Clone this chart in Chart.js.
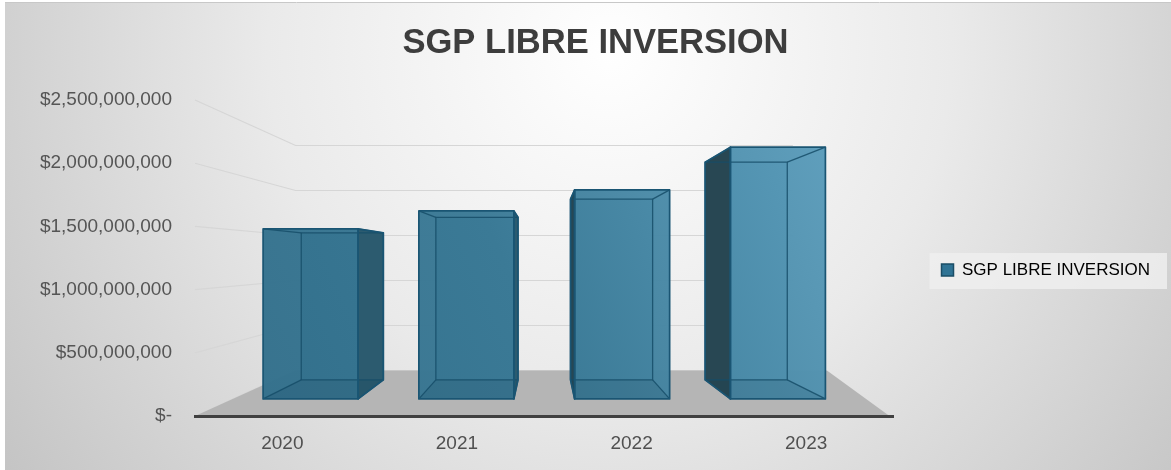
<!DOCTYPE html>
<html><head><meta charset="utf-8">
<script src="https://cdn.jsdelivr.net/npm/chart.js@4.4.1/dist/chart.umd.min.js"></script>
<style>html,body{margin:0;padding:0;background:#fff}#wrap{width:1171px;height:470px;position:relative}canvas{display:block}</style>
</head><body><div id="wrap"><canvas id="c" width="1171" height="470"></canvas></div>
<script>
// ---- data ----
const chartTitle = 'SGP LIBRE INVERSION';
const seriesName = 'SGP LIBRE INVERSION';
const categories = ['2020', '2021', '2022', '2023'];
const values = [1508000000, 1668000000, 1854000000, 2233000000];
const yTicks = [0, 500000000, 1000000000, 1500000000, 2000000000, 2500000000];

// ---- perspective style (depth factors toward chart-area centre) ----
const K_WALL = 0.712, K_FRONT = 0.892, K_BACK = 0.771;

function fmtMoney(v) {
  if (v === 0) return '$-';
  return '$' + Math.round(v).toLocaleString('en-US');
}

function vp(chart) {
  const a = chart.chartArea;
  return { x: (a.left + a.right) / 2, y: (a.top + a.bottom) / 2 };
}
function proj(chart, x, y, k) {
  const c = vp(chart);
  return { x: c.x + k * (x - c.x), y: c.y + k * (y - c.y) };
}
function poly(ctx, pts) {
  ctx.beginPath();
  ctx.moveTo(pts[0].x, pts[0].y);
  for (let i = 1; i < pts.length; i++) ctx.lineTo(pts[i].x, pts[i].y);
  ctx.closePath();
}

const scenePlugin = {
  id: 'scene3d',
  beforeDraw(chart) {
    const ctx = chart.ctx, W = chart.width, H = chart.height, a = chart.chartArea;
    ctx.save();
    ctx.fillStyle = '#ffffff';
    ctx.fillRect(0, 0, W, H);
    const g = ctx.createRadialGradient(610, 50, 0, 610, 50, 760);
    g.addColorStop(0, '#ffffff');
    g.addColorStop(0.45, '#eaeaea');
    g.addColorStop(1, '#c2c2c2');
    ctx.fillStyle = g;
    ctx.fillRect(5, 3, W - 5, H - 3);
    ctx.strokeStyle = '#c8c8c8';
    ctx.lineWidth = 1;
    ctx.beginPath(); ctx.moveTo(5, 2.5); ctx.lineTo(W, 2.5); ctx.stroke();

    const ys = chart.scales.y;
    ctx.strokeStyle = '#d6d6d6';
    ctx.lineWidth = 1.2;
    ys.ticks.forEach(t => {
      const py = ys.getPixelForValue(t.value);
      const bl = proj(chart, a.left, py, K_WALL);
      const br = proj(chart, a.right, py, K_WALL);
      ctx.beginPath();
      ctx.moveTo(a.left, py);
      ctx.lineTo(bl.x, bl.y);
      ctx.lineTo(br.x, br.y);
      ctx.stroke();
    });

    const y0 = ys.getPixelForValue(0);
    const fbl = proj(chart, a.left, y0, K_WALL);
    const fbr = proj(chart, a.right, y0, K_WALL);
    fbr.x += 34;
    ctx.fillStyle = '#b5b5b5';
    poly(ctx, [{ x: a.left, y: y0 }, { x: a.right - 4, y: y0 }, fbr, fbl]);
    ctx.fill();

    const lg = chart.legend;
    if (lg && lg.legendHitBoxes && lg.legendHitBoxes.length) {
      const hb = lg.legendHitBoxes[0];
      ctx.fillStyle = 'rgba(238,238,238,0.85)';
      ctx.fillRect(hb.left - 12, hb.top + hb.height / 2 - 17, hb.width + 29, 36);
    }
    ctx.restore();
  },
  beforeDatasetsDraw(chart) {
    const ctx = chart.ctx, a = chart.chartArea;
    const c = vp(chart);
    const grad = ctx.createLinearGradient(a.left, a.bottom, a.right, a.top);
    grad.addColorStop(0, '#306d89');
    grad.addColorStop(0.45, '#3b7a96');
    grad.addColorStop(1, '#62a4c3');
    ctx.save();
    ctx.lineJoin = 'round';
    chart.data.datasets.forEach((ds, di) => {
      const meta = chart.getDatasetMeta(di);
      meta.data.forEach(el => {
        const p = el.getProps(['x', 'y', 'base', 'width'], true);
        const x0 = p.x - p.width / 2, x1 = p.x + p.width / 2;
        const yt = Math.min(p.y, p.base), yb = Math.max(p.y, p.base);
        const F = [proj(chart, x0, yt, K_FRONT), proj(chart, x1, yt, K_FRONT), proj(chart, x1, yb, K_FRONT), proj(chart, x0, yb, K_FRONT)];
        const B = [proj(chart, x0, yt, K_BACK), proj(chart, x1, yt, K_BACK), proj(chart, x1, yb, K_BACK), proj(chart, x0, yb, K_BACK)];
        ctx.fillStyle = grad;
        poly(ctx, B); ctx.fill();
        const rightSide = p.x < c.x;
        const side = rightSide ? [F[1], B[1], B[2], F[2]] : [F[0], B[0], B[3], F[3]];
        ctx.fillStyle = rightSide ? '#2c5b6f' : '#284753';
        poly(ctx, side); ctx.fill();
        ctx.globalAlpha = 0.97;
        ctx.fillStyle = grad;
        poly(ctx, F); ctx.fill();
        ctx.globalAlpha = 1;
        ctx.fillStyle = 'rgba(15,55,75,0.14)';
        poly(ctx, [F[3], F[2], B[2], B[3]]); ctx.fill();
        ctx.strokeStyle = 'rgba(22,78,104,0.85)';
        ctx.lineWidth = 1.3;
        poly(ctx, B); ctx.stroke();
        for (let i = 0; i < 4; i++) {
          ctx.beginPath(); ctx.moveTo(F[i].x, F[i].y); ctx.lineTo(B[i].x, B[i].y); ctx.stroke();
        }
        ctx.strokeStyle = '#1a5573';
        ctx.lineWidth = 1.7;
        poly(ctx, F); ctx.stroke();
        poly(ctx, side); ctx.stroke();
      });
    });
    ctx.restore();
    return false;
  },
  afterLayout(chart) {
    const lg = chart.legend;
    if (lg) { lg.top += 12; lg.bottom += 12; }
  }
};

Chart.defaults.font.family = '"Liberation Sans", Arial, sans-serif';

new Chart(document.getElementById('c'), {
  type: 'bar',
  data: {
    labels: categories,
    datasets: [{
      label: seriesName,
      data: values,
      backgroundColor: '#2f7394',
      borderColor: '#1a5573',
      borderWidth: 1.5,
      barPercentage: 0.61,
      categoryPercentage: 1.0
    }]
  },
  options: {
    responsive: false,
    animation: false,
    devicePixelRatio: 1,
    layout: { padding: { left: 31, right: 11, top: 0, bottom: 0 } },
    plugins: {
      title: {
        display: true,
        text: chartTitle,
        color: '#3d3d3d',
        font: { family: '"Liberation Sans", Arial, sans-serif', size: 34.6, weight: 'bold', lineHeight: 1.2 },
        padding: { top: 22.5, bottom: 36 }
      },
      legend: {
        position: 'right',
        fullSize: false,
        labels: {
          boxWidth: 12, boxHeight: 12, padding: 48,
          color: '#444444',
          font: { size: 17 },
          generateLabels(chart) {
            return [{ text: seriesName, fillStyle: '#2f7394', strokeStyle: '#1a4d66', lineWidth: 1.5, datasetIndex: 0, hidden: false }];
          }
        }
      },
      tooltip: { enabled: false }
    },
    scales: {
      x: {
        grid: { display: false, drawTicks: false },
        border: { display: true, color: '#404040', width: 3, z: 1 },
        ticks: { color: '#505050', font: { size: 19 }, padding: 16, maxRotation: 0 },
        afterFit(s) { s.height = 54; }
      },
      y: {
        min: 0, max: 2500000000,
        grid: { display: false, drawTicks: false },
        border: { display: false },
        afterBuildTicks(s) { s.ticks = yTicks.map(v => ({ value: v })); },
        ticks: { color: '#555555', font: { size: 19 }, padding: 23, callback: v => fmtMoney(v) },
        afterFit(s) { s.width = 164; }
      }
    }
  },
  plugins: [scenePlugin]
});
</script>
</body></html>
